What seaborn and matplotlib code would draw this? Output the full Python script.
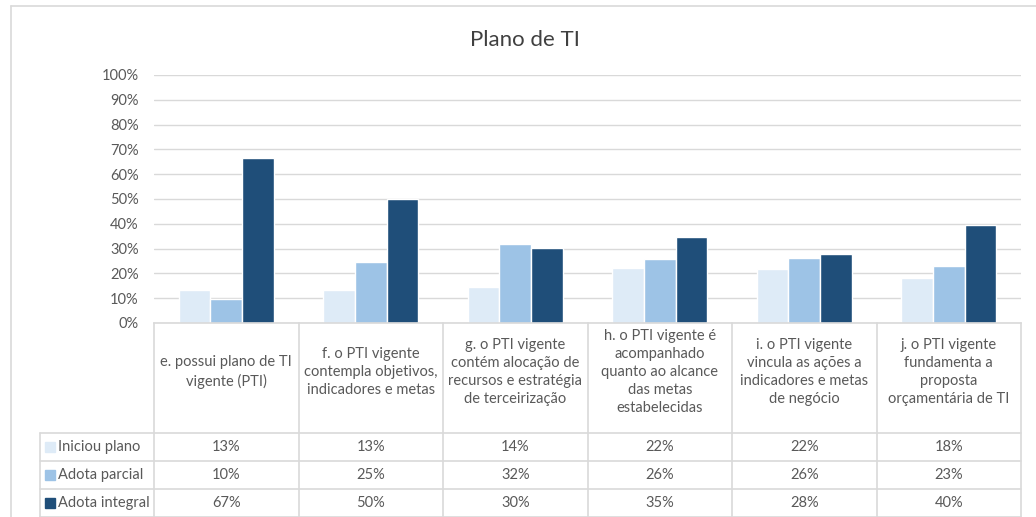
import pandas as pd
import seaborn as sns
import matplotlib.pyplot as plt
import matplotlib.transforms as mtransforms
from matplotlib.lines import Line2D
from matplotlib.patches import Rectangle

# dados
categorias = [
    "e. possui plano de TI\nvigente (PTI)",
    "f. o PTI vigente\ncontempla objetivos,\nindicadores e metas",
    "g. o PTI vigente\ncontém alocação de\nrecursos e estratégia\nde terceirização",
    "h. o PTI vigente é\nacompanhado\nquanto ao alcance\ndas metas\nestabelecidas",
    "i. o PTI vigente\nvincula as ações a\nindicadores e metas\nde negócio",
    "j. o PTI vigente\nfundamenta a\nproposta\norçamentária de TI",
]
series = ["Iniciou plano", "Adota parcial", "Adota integral"]
iniciou = [13.3, 13.3, 14.4, 22.2, 21.6, 18.0]
parcial = [9.8, 24.6, 32.0, 25.9, 26.1, 23.0]
integral = [66.7, 50.0, 30.2, 34.6, 28.0, 39.6]
cores = ["#DEEBF7", "#9DC3E6", "#1F4E79"]

valores = [iniciou, parcial, integral]
linhas = []
for s, vals in zip(series, valores):
    for c, v in zip(categorias, vals):
        linhas.append({"categoria": c, "serie": s, "valor": v})
df = pd.DataFrame(linhas)

# figura
sns.set_style("white")
plt.rcParams["font.family"] = ["Lato", "DejaVu Sans"]

W, H = 1036, 517
fig = plt.figure(figsize=(W / 100, H / 100), dpi=100)
x0, x1, ytop, ybot = 154, 1021, 75, 323
ax = fig.add_axes([x0 / W, 1 - ybot / H, (x1 - x0) / W, (ybot - ytop) / H])

sns.barplot(data=df, x="categoria", y="valor", hue="serie", palette=cores,
            width=0.66, gap=0, saturation=1, legend=False, ax=ax)

grid = "#D9D9D9"
texto = "#595959"
ax.set_ylim(0, 100)
ax.set_xlim(-0.5, len(categorias) - 0.5)
ax.set_yticks(range(0, 101, 10))
ax.set_yticklabels([f"{t}%" for t in range(0, 101, 10)], fontsize=10.5, color=texto)
ax.tick_params(axis="y", length=0, pad=11)
ax.set_xticks([])
ax.set_xlabel("")
ax.set_ylabel("")
ax.yaxis.grid(True, color=grid, linewidth=1)
ax.set_axisbelow(True)
for lado in ["top", "right", "left"]:
    ax.spines[lado].set_visible(False)
ax.spines["bottom"].set_color(grid)
ax.spines["bottom"].set_linewidth(1.2)

fig.text(525 / W, 1 - 40 / H, "Plano de TI", fontsize=16, color="#404040",
         ha="center", va="center")

# tabela de dados
trans = mtransforms.blended_transform_factory(ax.transData, ax.transAxes)
altura = ybot - ytop
def fy(px):
    return (ybot - px) / altura

cab_base = fy(433)
linha_h = fy(433) - fy(461)
leg_esq = -0.5 - (x0 - 40) / ((x1 - x0) / len(categorias))
n = len(categorias)

def linha(xs, ys):
    ax.add_line(Line2D(xs, ys, transform=trans, color=grid, lw=1.2, clip_on=False))

# verticais
for i in range(n + 1):
    linha([i - 0.5, i - 0.5], [0, cab_base - 3 * linha_h])
linha([leg_esq, leg_esq], [cab_base, cab_base - 3 * linha_h])
# horizontais
for k in range(4):
    linha([leg_esq, n - 0.5], [cab_base - k * linha_h] * 2)

for i, c in enumerate(categorias):
    ax.text(i, fy(372), c, transform=trans, ha="center", va="center",
            fontsize=10.5, color=texto, linespacing=1.36)

for k, (s, vals) in enumerate(zip(series, valores)):
    yc = cab_base - (k + 0.5) * linha_h
    ax.add_patch(Rectangle((leg_esq + 0.035, yc - 0.02), 0.07, 0.04,
                           transform=trans, color=cores[k], clip_on=False))
    ax.text(leg_esq + 0.125, yc, s, transform=trans, ha="left", va="center",
            fontsize=10.5, color=texto)
    for i, v in enumerate(vals):
        ax.text(i, yc, f"{round(v)}%", transform=trans, ha="center",
                va="center", fontsize=10.5, color=texto)

# moldura externa
fig.add_artist(Line2D([11 / W, 11 / W], [0, 1 - 6 / H], color=grid, lw=1.2))
fig.add_artist(Line2D([11 / W, 1], [1 - 6 / H, 1 - 6 / H], color=grid, lw=1.2))

fig.savefig("out.png", dpi=100)
